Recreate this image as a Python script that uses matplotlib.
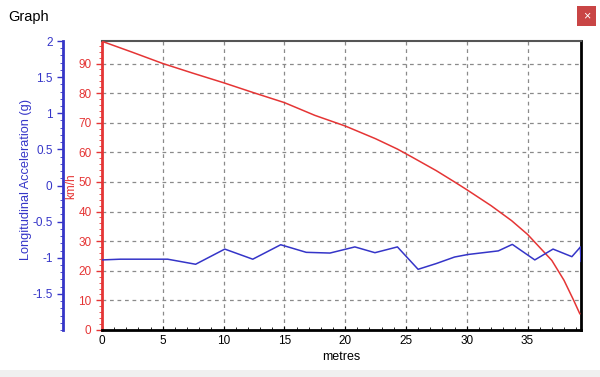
import matplotlib.pyplot as plt
from matplotlib.patches import Rectangle
from matplotlib.ticker import MultipleLocator

plt.rcParams['font.family'] = ['Liberation Sans', 'DejaVu Sans']
plt.rcParams['axes.unicode_minus'] = False

# speed (km/h) against distance (metres)
dist_kmh = [0, 2.5, 5, 7.5, 10, 12.5, 15, 17.5, 20, 22.5, 24.3, 25.5, 27.5, 29,
            30, 32, 33.7, 35, 36, 37, 38, 38.8, 39.3]
speed = [97.5, 93.8, 90, 86.7, 83.5, 80.1, 76.8, 72.5, 68.9, 64.6, 61.1, 58.4,
         53.8, 50, 47.4, 42, 36.9, 32.3, 27.9, 23.5, 16.8, 10, 5.5]

# longitudinal acceleration (g) against distance (metres)
dist_g = [0, 1.5, 5.4, 7.7, 10.1, 12.4, 14.7, 16.8, 18.75, 20.8, 22.45, 24.3, 26.0,
          27.5, 29.0, 30.1, 32.6, 33.75, 35.6, 37.1, 38.65, 39.15, 39.35, 39.4]
accel = [-1.03, -1.02, -1.02, -1.09, -0.88, -1.02, -0.82, -0.925, -0.935, -0.85,
         -0.93, -0.85, -1.16, -1.08, -0.99, -0.955, -0.905, -0.815, -1.03, -0.88,
         -0.985, -0.89, -0.85, -1.05]

kmh_ticks = [0, 10, 20, 30, 40, 50, 60, 70, 80, 90]
g_ticks = [-1.5, -1, -0.5, 0, 0.5, 1, 1.5, 2]
g_labels = ['-1.5', '-1', '-0.5', '0', '0.5', '1', '1.5', '2']

red = '#e53535'
blue = '#3535c8'

fig = plt.figure(figsize=(6, 3.77), dpi=100)
fig.patch.set_facecolor('white')

# window chrome
fig.patches.append(Rectangle((0, 0), 1, 7 / 377, transform=fig.transFigure,
                             facecolor='#f0f0f0', edgecolor='none'))
fig.patches.append(Rectangle((577 / 600, 351 / 377), 19 / 600, 20 / 377,
                             transform=fig.transFigure, facecolor='#c94545',
                             edgecolor='none'))
fig.text(586.5 / 600, 361 / 377, '×', color='white', fontsize=9,
         ha='center', va='center')
fig.text(8 / 600, 360 / 377, 'Graph', fontsize=10.5, ha='left', va='center')

ax = fig.add_axes([102 / 600, 47 / 377, 479 / 600, 289 / 377])
ax.plot(dist_kmh, speed, color=red, lw=1.1, zorder=3)
ax.set_xlim(0, 39.4)
ax.set_ylim(0, 97.6)
ax.set_yticks(kmh_ticks)
ax.xaxis.set_major_locator(MultipleLocator(5))
ax.xaxis.set_minor_locator(MultipleLocator(1))
ax.yaxis.set_minor_locator(MultipleLocator(2))
ax.grid(True, color='#8a8a8a', linestyle=(0, (3, 3)), lw=0.9)
ax.tick_params(axis='y', colors=red, labelsize=8.5, length=4, width=1)
ax.tick_params(axis='y', which='minor', colors=red, length=2)
ax.tick_params(axis='x', labelsize=8.5, length=3, direction='in')
ax.tick_params(axis='x', which='minor', length=2, direction='in')
ax.spines['left'].set_color(red)
ax.spines['left'].set_linewidth(2)
ax.spines['bottom'].set_linewidth(2)
ax.spines['top'].set_color('#555555')
ax.spines['top'].set_linewidth(1.5)
ax.spines['right'].set_linestyle((0, (3, 1)))
ax.spines['right'].set_linewidth(2)
ax.set_xlabel('metres', fontsize=9, labelpad=3)

ax2 = ax.twinx()
ax2.plot(dist_g, accel, color=blue, lw=1.1, zorder=3)
ax2.set_ylim(-2, 2)
ax2.set_yticks(g_ticks)
ax2.set_yticklabels(g_labels)
ax2.yaxis.set_minor_locator(MultipleLocator(0.1))
ax2.yaxis.set_ticks_position('left')
ax2.yaxis.set_label_position('left')
ax2.spines['left'].set_position(('axes', -39 / 479))
ax2.spines['left'].set_color(blue)
ax2.spines['left'].set_linewidth(2)
for s in ['right', 'top', 'bottom']:
    ax2.spines[s].set_visible(False)
ax2.tick_params(axis='y', colors=blue, labelsize=8.5, length=4, width=1)
ax2.tick_params(axis='y', which='minor', colors=blue, length=2)

fig.text(26 / 600, 1 - 179 / 377, 'Longitudinal Acceleration (g)', color=blue,
         fontsize=9.2, rotation=90, ha='center', va='center')
fig.text(71 / 600, 1 - 186 / 377, 'km/h', color=red, fontsize=8.5,
         rotation=90, ha='center', va='center')

fig.savefig('out.png', dpi=100)
